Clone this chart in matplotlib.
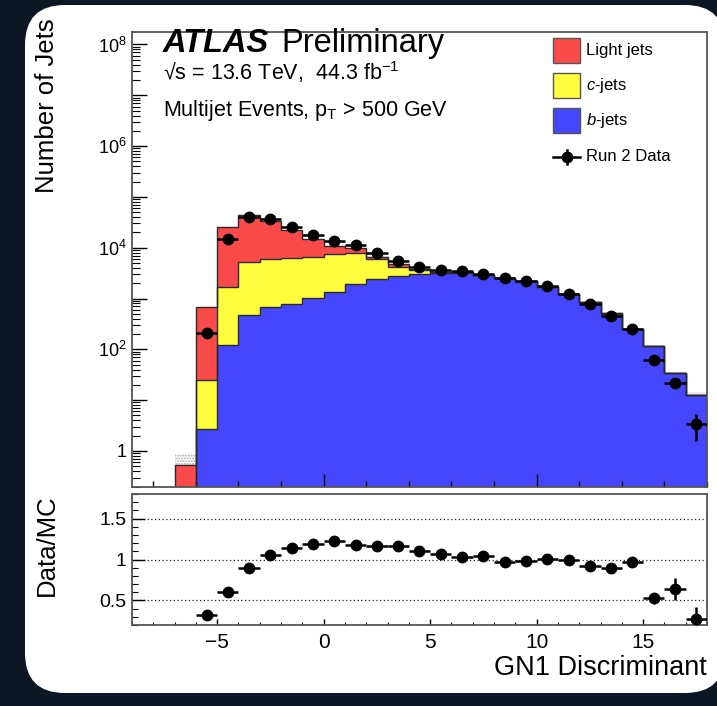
import numpy as np
import matplotlib.pyplot as plt
from matplotlib.patches import FancyBboxPatch, Rectangle
from matplotlib.ticker import MultipleLocator, FixedLocator, FuncFormatter, NullFormatter

plt.rcParams['font.family'] = 'Liberation Sans'
plt.rcParams['mathtext.fontset'] = 'custom'
plt.rcParams['mathtext.rm'] = 'Liberation Sans'
plt.rcParams['mathtext.it'] = 'Liberation Sans:italic'
plt.rcParams['mathtext.bf'] = 'Liberation Sans:bold'

# GN1 discriminant bins (-7 ... 18, width 1)
edges = list(range(-7, 19))

# stacked MC components per bin (number of jets)
b_jets = [0, 2.7, 123, 481, 692, 782, 1028, 1325, 1941, 2437, 2830, 3055, 3130,
          3200, 2850, 2500, 2200, 1700, 1225, 840, 505, 253, 117, 33.5, 12.7]
c_jets = [0, 22, 1540, 4700, 5350, 5430, 5670, 6265, 5860, 3600, 1430, 610, 200,
          90, 50, 40, 30, 25, 15, 10, 5, 2, 1, 0.3, 0.1]
light_jets = [0.53, 645, 23700, 39500, 27950, 16200, 8250, 3410, 1900, 680, 550, 205, 70,
              50, 25, 20, 20, 15, 10, 5, 2, 1, 0.5, 0.2, 0.05]
mc_unc = [0.34, 8, 60, 80, 70, 60, 45, 38, 30, 25, 20, 18, 17,
          16, 15, 14, 12, 10, 8, 6, 4.5, 3.5, 3, 1.8, 1.5]

# Run 2 data, bin centres -5.5 ... 17.5
data_x = [-5.5, -4.5, -3.5, -2.5, -1.5, -0.5, 0.5, 1.5, 2.5, 3.5, 4.5, 5.5,
          6.5, 7.5, 8.5, 9.5, 10.5, 11.5, 12.5, 13.5, 14.5, 15.5, 16.5, 17.5]
data_y = [212, 15180, 39980, 36000, 25500, 17800, 13430, 11400, 7800, 5590, 4256, 3620,
          3440, 3055, 2480, 2205, 1755, 1250, 782, 456, 248, 62.5, 21.8, 3.45]
data_err = [14.6, 123, 200, 190, 160, 133, 116, 107, 88, 75, 65, 60,
            59, 55, 50, 47, 42, 35, 28, 21, 15.7, 7.9, 4.7, 1.9]

# y-axis decades shown on the main panel
decades = [0, 1, 2, 3, 4, 5, 6, 7, 8]

RED = '#fb4a4a'
YELLOW = '#fdfd3e'
BLUE = '#4646fc'
W, H = 717, 706

fig = plt.figure(figsize=(W / 100, H / 100), dpi=100)
fig.patch.set_facecolor('#0c1725')

# white rounded panel behind the plot
bg = fig.add_axes([0, 0, 1, 1], zorder=-1)
bg.set_xlim(0, W); bg.set_ylim(H, 0); bg.axis('off')
bg.add_patch(FancyBboxPatch((25, 5), 700, 688, boxstyle='round,pad=0,rounding_size=40',
                            fc='white', ec='none'))

ax = fig.add_axes([132 / W, 1 - 486.5 / H, 575 / W, 455 / H])
rax = fig.add_axes([132 / W, 1 - 625 / H, 575 / W, 131 / H])

edges_a = np.array(edges, dtype=float)
cum_b = np.array(b_jets)
cum_c = cum_b + np.array(c_jets)
cum_l = cum_c + np.array(light_jets)
unc = np.array(mc_unc)

ax.set_yscale('log')
centers = (edges_a[:-1] + edges_a[1:]) / 2
ax.bar(centers, 2 * unc, bottom=np.maximum(cum_l - unc, 1e-3), width=1, fill=False,
       hatch='......', edgecolor='#b0b0b0', linewidth=0, zorder=0.5)
low = 1e-3
ax.stairs(np.where(cum_b > 0, cum_b, low), edges_a, baseline=low, fill=True, color=BLUE, zorder=1)
ax.stairs(np.where(cum_c > 0, cum_c, low), edges_a, baseline=np.where(cum_b > 0, cum_b, low),
          fill=True, color=YELLOW, zorder=1)
ax.stairs(cum_l, edges_a, baseline=np.where(cum_c > 0, cum_c, low), fill=True, color=RED, zorder=1)
for cum in (cum_b, cum_c, cum_l):
    ax.stairs(np.where(cum > 0, cum, low), edges_a, baseline=low, fill=False,
              color='#2a2a2a', lw=1.0, zorder=2)

ax.errorbar(data_x, data_y, yerr=data_err, xerr=0.5, fmt='o', color='black',
            ms=7.5, elinewidth=1.8, capsize=0, zorder=3)

ax.set_xlim(-9, 18)
ax.set_ylim(0.2, 1.8e8)
ax.yaxis.set_major_locator(FixedLocator([10.0 ** e for e in decades]))
minor = [m * 10.0 ** e for e in [-1] + decades for m in range(2, 10)]
ax.yaxis.set_minor_locator(FixedLocator([v for v in minor if 0.2 <= v <= 1.8e8]))


def log_label(v, pos):
    e = int(round(np.log10(v)))
    if e % 2:
        return ''
    return '1' if e == 0 else '$10^{%d}$' % e


ax.yaxis.set_major_formatter(FuncFormatter(log_label))
ax.yaxis.set_minor_formatter(NullFormatter())
ax.xaxis.set_major_locator(MultipleLocator(10))
ax.xaxis.set_minor_locator(MultipleLocator(2))
ax.tick_params(axis='x', which='both', direction='in', labelbottom=False)
ax.tick_params(axis='x', which='major', length=9.5, width=1)
ax.tick_params(axis='x', which='minor', length=4.5, width=1)
ax.tick_params(axis='y', which='both', direction='in', labelsize=13, pad=4)
ax.tick_params(axis='y', which='major', length=11, width=1)
ax.tick_params(axis='y', which='minor', length=6, width=0.8)

# ratio panel
mc_total = cum_l[1:]
ratio = np.array(data_y) / mc_total
ratio_err = np.array(data_err) / mc_total
rax.errorbar(data_x, ratio, yerr=ratio_err, xerr=0.5, fmt='o', color='black',
             ms=7.5, elinewidth=1.8, capsize=0, zorder=3)
rax.set_xlim(-9, 18)
rax.set_ylim(0.2, 1.8)
rax.yaxis.set_major_locator(FixedLocator([0.5, 1, 1.5]))
rax.yaxis.set_major_formatter(FuncFormatter(lambda v, p: '%g' % v))
rax.yaxis.set_minor_locator(MultipleLocator(0.1))
rax.xaxis.set_major_locator(FixedLocator([-5, 0, 5, 10, 15]))
rax.xaxis.set_minor_locator(MultipleLocator(1))
rax.grid(True, axis='y', which='major', linestyle=(0, (1, 2)), color='#222222', lw=0.9)
rax.tick_params(axis='both', which='both', direction='in')
rax.tick_params(axis='y', which='major', length=9, width=1, labelsize=14, pad=4)
rax.tick_params(axis='y', which='minor', length=4.5, width=0.8)
rax.tick_params(axis='x', which='major', length=4, width=1, labelsize=15, pad=6)
rax.tick_params(axis='x', which='minor', length=2, width=0.8)

for a in (ax, rax):
    for s in a.spines.values():
        s.set_color('#555555')
        s.set_linewidth(1.3)

# overlay for texts and legend
ov = fig.add_axes([0, 0, 1, 1], zorder=5)
ov.set_xlim(0, W); ov.set_ylim(H, 0); ov.axis('off')
ov.patch.set_alpha(0)

ov.text(163, 52, 'ATLAS', fontsize=23.5, fontweight='bold', style='italic', va='baseline')
ov.text(281, 52, 'Preliminary', fontsize=23.5, va='baseline')
ov.text(163, 80, '\u221as = 13.6 TeV,  44.3 fb$^{-1}$', fontsize=15.5, va='baseline')
ov.text(163, 116, 'Multijet Events, $\\mathrm{p}_{\\mathrm{T}}$ > 500 GeV', fontsize=15.5,
        va='baseline')

ov.text(47, 18, 'Number of Jets', rotation=90, ha='center', va='top', fontsize=18.5)
ov.text(47, 545, 'Data/MC', rotation=90, ha='center', va='center', fontsize=18.5)
ov.text(707, 668, 'GN1 Discriminant', ha='right', va='center', fontsize=19.5)

legend_items = [('Light jets', RED, 50.7), ('$c$-jets', YELLOW, 85.7), ('$b$-jets', BLUE, 120)]
for label, col, yc in legend_items:
    ov.add_patch(Rectangle((553, yc - 12.5), 27, 25, fc=col, ec='#555555', lw=1))
    ov.text(586, yc, label, fontsize=12, va='center')
ov.plot([553, 580], [156.7, 156.7], color='black', lw=1.8)
ov.plot([566.5, 566.5], [150, 163.5], color='black', lw=1.8)
ov.plot([566.5], [156.7], 'o', color='black', ms=7.5)
ov.text(586, 156.7, 'Run 2 Data', fontsize=12, va='center')

fig.savefig('out.png', dpi=100, facecolor=fig.get_facecolor())
